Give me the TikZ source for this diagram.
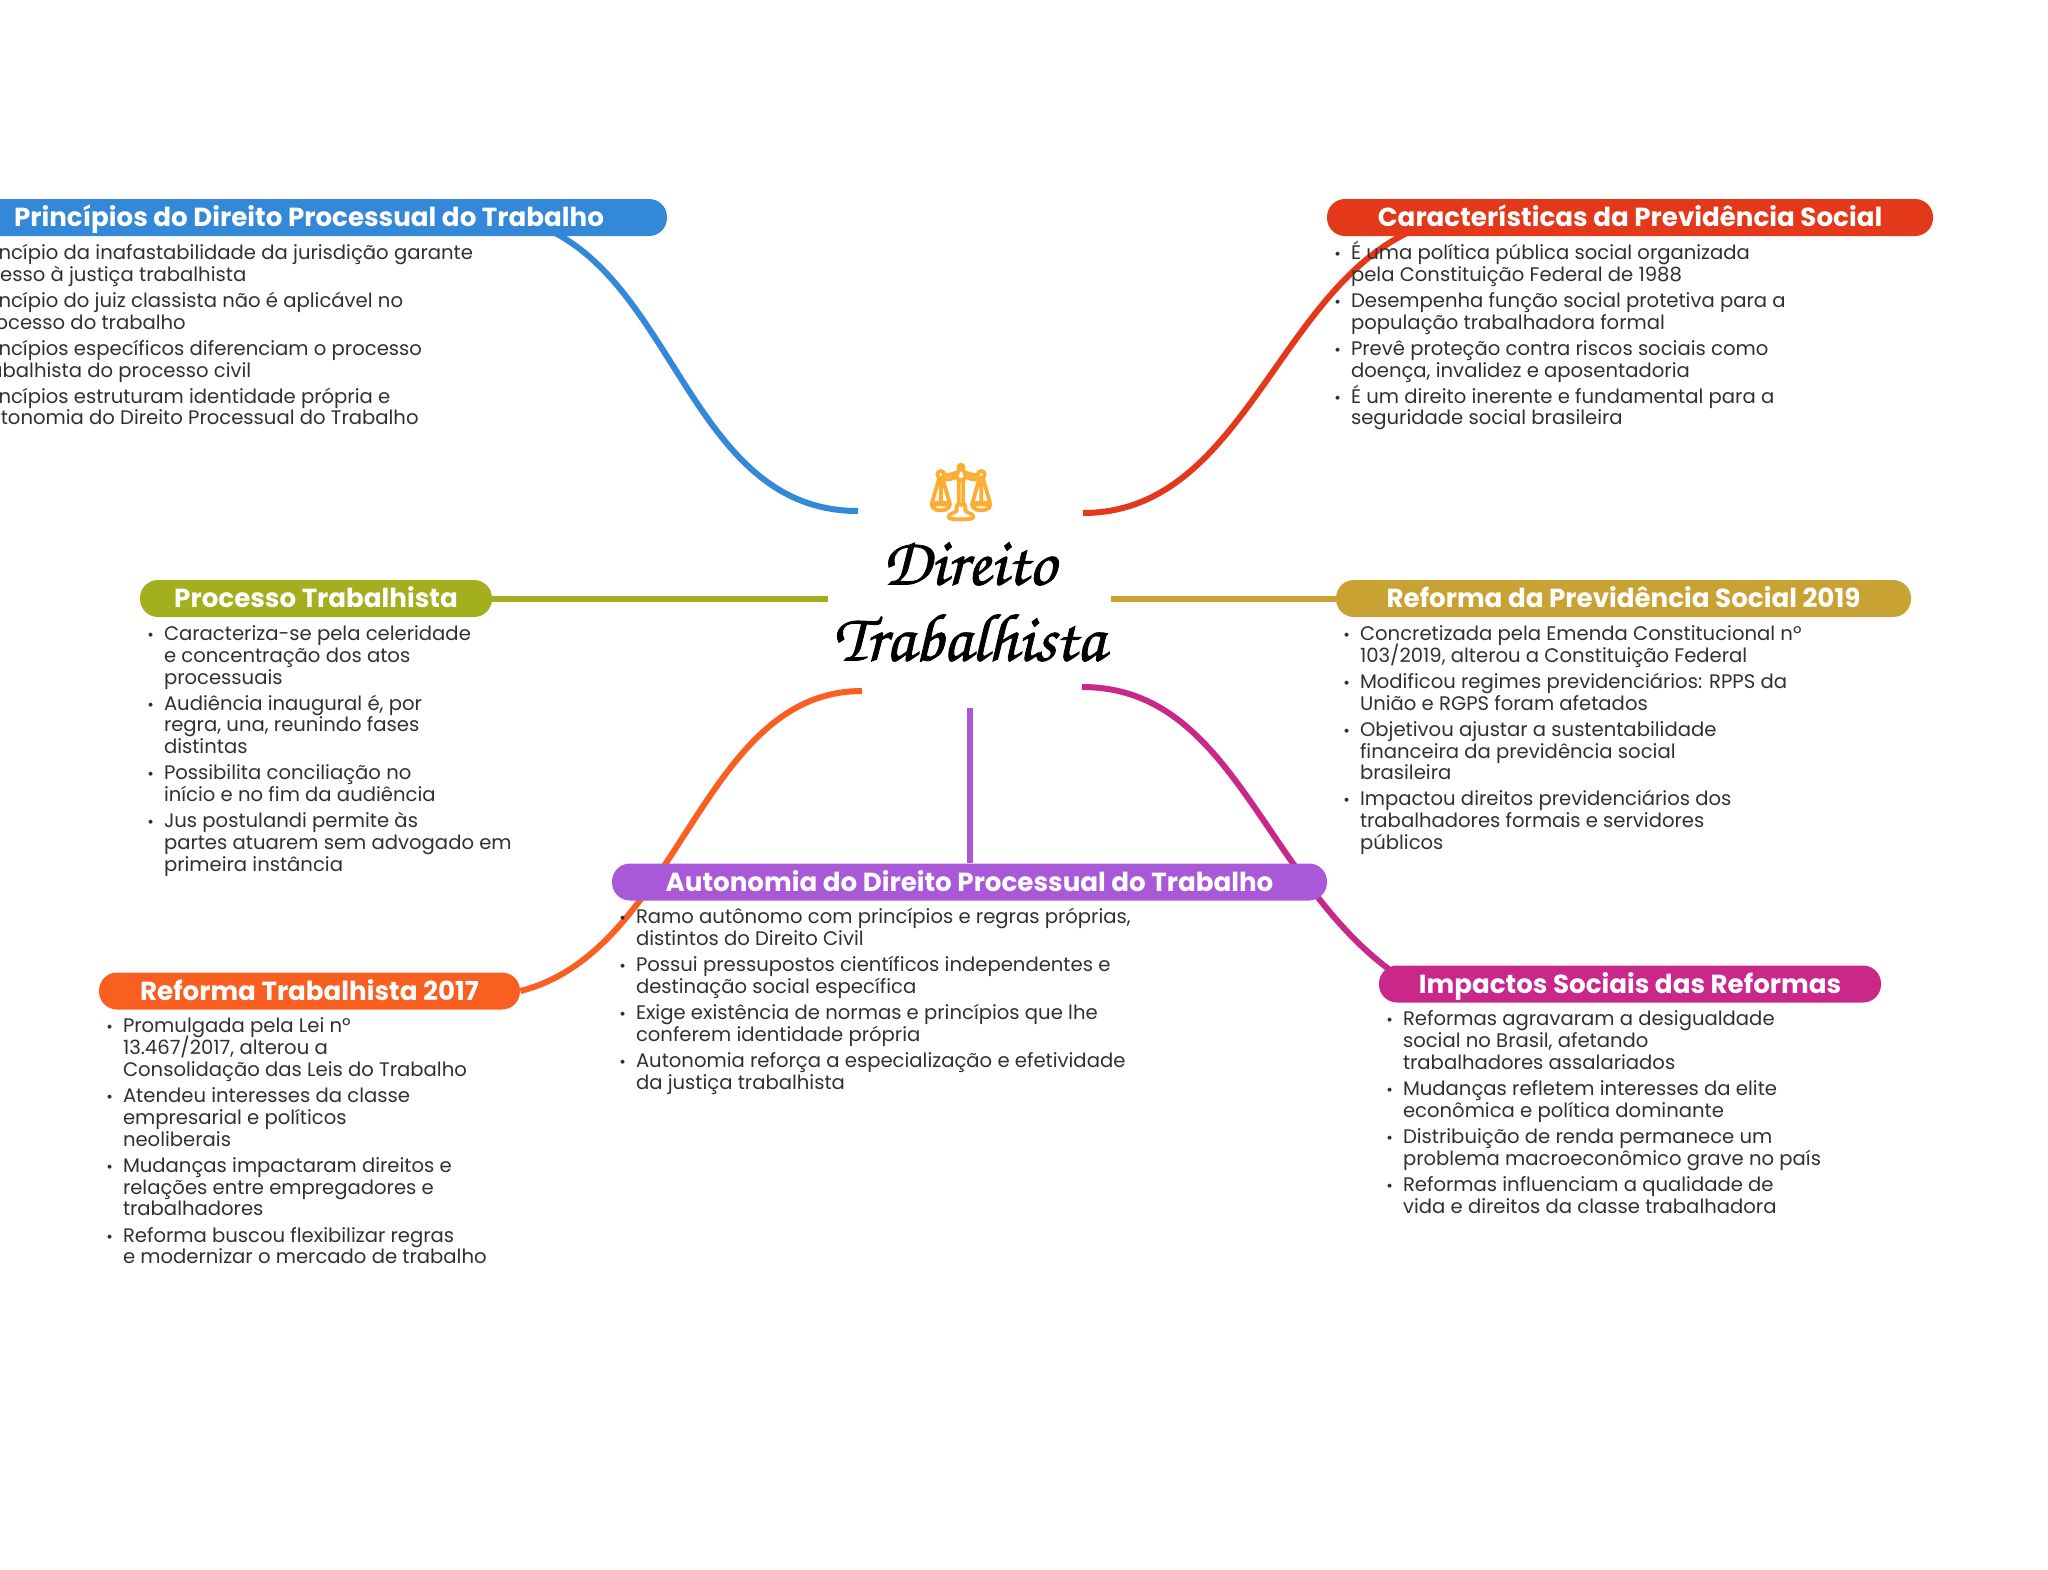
\documentclass[tikz,border=0pt]{standalone}
\usepackage{fontspec}
\setmainfont{Poppins}
\newfontfamily\titlefont[FakeBold=1.2]{TeX Gyre Chorus}
\newfontfamily\emojifont[FakeBold=3]{Noto Emoji}
\usetikzlibrary{positioning}
\definecolor{MapBlue}{RGB}{51,136,216}
\definecolor{MapRed}{RGB}{228,56,27}
\definecolor{MapOlive}{RGB}{163,175,30}
\definecolor{MapGold}{RGB}{200,162,51}
\definecolor{MapOrange}{RGB}{250,95,34}
\definecolor{MapPurple}{RGB}{169,89,216}
\definecolor{MapMagenta}{RGB}{201,39,138}
\definecolor{MapText}{RGB}{48,48,48}
\definecolor{MapIcon}{RGB}{255,172,51}
\newcommand{\itm}{\rule{0pt}{10pt}\makebox[0pt][r]{{\footnotesize •}\hspace{5pt}}}
\tikzset{
  head/.style={rectangle, rounded corners=9pt, fill=#1, text=white, inner sep=0pt,
    minimum height=18.5pt, text height=10.7pt, text depth=1.7pt, font=\fontsize{13.08}{14}\selectfont\bfseries},
  body/.style={align=left, inner sep=0pt, text=MapText,
    font=\fontsize{9.81}{10.9}\selectfont\lineskiplimit-20pt\relax},
  branch/.style={line width=3pt, draw=#1}
}
\begin{document}
\begin{tikzpicture}[x=0.5pt,y=-0.5pt]
  \useasboundingbox (0,0) rectangle (2048,1569);
  % centre
  \node[font=\titlefont\fontsize{34}{38}\selectfont, align=center, inner sep=0pt] (root) at (969,602) {Direito\\Trabalhista};
  \node[font=\emojifont\fontsize{28}{30}\selectfont, text=MapIcon, inner sep=0pt] (icon) at (961,492) {⚖};
  \coordinate (rootblue) at (858,511);
  \coordinate (rootred) at (1083,513);
  \coordinate (rootolive) at (828,598.5);
  \coordinate (rootgold) at (1111,598.5);
  \coordinate (rootorange) at (862,691);
  \coordinate (rootpurple) at (969.5,708);
  \coordinate (rootmagenta) at (1082,687);
  % heading places
  \path (309,217.5) coordinate (cblue) (1630,217.5) coordinate (cred)
    (316,598.5) coordinate (colive) (1623.5,598.5) coordinate (cgold)
    (309.5,991) coordinate (corange) (969.5,882) coordinate (cpurple) (1630,984) coordinate (cmagenta);
  \path node[minimum width=358pt, minimum height=18.5pt] (pblue) at (cblue) {}
    node[minimum width=303pt, minimum height=18.5pt] (pred) at (cred) {}
    node[minimum width=176pt, minimum height=18.5pt] (polive) at (colive) {}
    node[minimum width=287.5pt, minimum height=18.5pt] (pgold) at (cgold) {}
    node[minimum width=210.5pt, minimum height=18.5pt] (porange) at (corange) {}
    node[minimum width=357.5pt, minimum height=18.5pt] (ppurple) at (cpurple) {}
    node[minimum width=251pt, minimum height=18.5pt] (pmagenta) at (cmagenta) {};
  % branches
  \draw[branch=MapBlue] (rootblue) .. controls (680,511) and (675,248) .. ([xshift=-78.5pt]pblue.east);
  \draw[branch=MapRed] (rootred) .. controls (1260,513) and (1283,240) .. ([xshift=66.5pt]pred.west);
  \draw[branch=MapOlive] (rootolive) -- (polive.east);
  \draw[branch=MapGold] (rootgold) -- (pgold.west);
  \draw[branch=MapOrange] (rootorange) .. controls (700,691) and (680,950) .. (porange.east);
  \draw[branch=MapPurple] (rootpurple) -- (ppurple.north);
  \draw[branch=MapMagenta] (rootmagenta) .. controls (1240,687) and (1265,895) .. ([xshift=16pt]pmagenta.west);
  % headings
  \node[head=MapBlue, minimum width=358pt] at (cblue) {Princípios do Direito Processual do Trabalho};
  \node[head=MapRed, minimum width=303pt] at (cred) {Características da Previdência Social};
  \node[head=MapOlive, minimum width=176pt] at (colive) {Processo Trabalhista};
  \node[head=MapGold, minimum width=287.5pt] at (cgold) {Reforma da Previdência Social 2019};
  \node[head=MapOrange, minimum width=210.5pt] at (corange) {Reforma Trabalhista 2017};
  \node[head=MapPurple, minimum width=357.5pt] at (cpurple) {Autonomia do Direito Processual do Trabalho};
  \node[head=MapMagenta, minimum width=251pt] at (cmagenta) {Impactos Sociais das Reformas};
  % lists
  \node[body, below right=1.3pt and 12pt of pblue.south west] (tblue) {\itm Princípio da inafastabilidade da jurisdição garante\\acesso à justiça trabalhista\\[2.15pt]
    \itm Princípio do juiz classista não é aplicável no\\processo do trabalho\\[2.15pt]
    \itm Princípios específicos diferenciam o processo\\trabalhista do processo civil\\[2.15pt]
    \itm Princípios estruturam identidade própria e\\autonomia do Direito Processual do Trabalho};
  \node[body, below right=1.3pt and 12pt of pred.south west] (tred) {\itm É uma política pública social organizada\\pela Constituição Federal de 1988\\[2.15pt]
    \itm Desempenha função social protetiva para a\\população trabalhadora formal\\[2.15pt]
    \itm Prevê proteção contra riscos sociais como\\doença, invalidez e aposentadoria\\[2.15pt]
    \itm É um direito inerente e fundamental para a\\seguridade social brasileira};
  \node[body, below right=1.3pt and 12pt of polive.south west] (tolive) {\itm Caracteriza-se pela celeridade\\e concentração dos atos\\processuais\\[2.15pt]
    \itm Audiência inaugural é, por\\regra, una, reunindo fases\\distintas\\[2.15pt]
    \itm Possibilita conciliação no\\início e no fim da audiência\\[2.15pt]
    \itm Jus postulandi permite às\\partes atuarem sem advogado em\\primeira instância};
  \node[body, below right=1.3pt and 12pt of pgold.south west] (tgold) {\itm Concretizada pela Emenda Constitucional nº\\103/2019, alterou a Constituição Federal\\[2.15pt]
    \itm Modificou regimes previdenciários: RPPS da\\União e RGPS foram afetados\\[2.15pt]
    \itm Objetivou ajustar a sustentabilidade\\financeira da previdência social\\brasileira\\[2.15pt]
    \itm Impactou direitos previdenciários dos\\trabalhadores formais e servidores\\públicos};
  \node[body, below right=1.3pt and 12pt of porange.south west] (torange) {\itm Promulgada pela Lei nº\\13.467/2017, alterou a\\Consolidação das Leis do Trabalho\\[2.15pt]
    \itm Atendeu interesses da classe\\empresarial e políticos\\neoliberais\\[2.15pt]
    \itm Mudanças impactaram direitos e\\relações entre empregadores e\\trabalhadores\\[2.15pt]
    \itm Reforma buscou flexibilizar regras\\e modernizar o mercado de trabalho};
  \node[body, below right=1.3pt and 12pt of ppurple.south west] (tpurple) {\itm Ramo autônomo com princípios e regras próprias,\\distintos do Direito Civil\\[2.15pt]
    \itm Possui pressupostos científicos independentes e\\destinação social específica\\[2.15pt]
    \itm Exige existência de normas e princípios que lhe\\conferem identidade própria\\[2.15pt]
    \itm Autonomia reforça a especialização e efetividade\\da justiça trabalhista};
  \node[body, below right=1.3pt and 12pt of pmagenta.south west] (tmagenta) {\itm Reformas agravaram a desigualdade\\social no Brasil, afetando\\trabalhadores assalariados\\[2.15pt]
    \itm Mudanças refletem interesses da elite\\econômica e política dominante\\[2.15pt]
    \itm Distribuição de renda permanece um\\problema macroeconômico grave no país\\[2.15pt]
    \itm Reformas influenciam a qualidade de\\vida e direitos da classe trabalhadora};
\end{tikzpicture}
\end{document}
